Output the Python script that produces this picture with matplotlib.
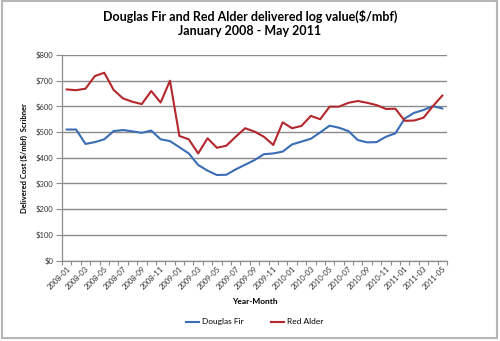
import numpy as np
import matplotlib
matplotlib.use("Agg")
import matplotlib.pyplot as plt
from matplotlib.patches import Rectangle

months = [f"{y}-{m:02d}" for y in (2008, 2009, 2010, 2011) for m in range(1, 13)][:41]

douglas_fir = [510, 510, 454, 461, 472, 504, 508, 503, 497, 506,
               472, 465, 441, 417, 372, 350, 333, 334, 355, 373,
               391, 414, 417, 424, 452, 463, 474, 499, 525, 517,
               504, 469, 460, 461, 482, 495, 553, 575, 586, 601,
               592]
red_alder = [666, 663, 669, 718, 731, 664, 631, 618, 609, 660,
             615, 700, 485, 472, 417, 476, 439, 447, 482, 515,
             502, 482, 450, 538, 515, 524, 563, 550, 599, 599,
             614, 621, 614, 605, 590, 591, 544, 545, 556, 601,
             642]

title = "Douglas Fir and Red Alder delivered log value($/mbf)\nJanuary 2008 - May 2011"
FONT = ["Lato", "DejaVu Sans"]
plt.rcParams['font.family'] = FONT

fig = plt.figure(figsize=(5.0, 3.41), dpi=100)
ax = fig.add_axes([0.124, 0.2358, 0.77, 0.6029])

x = np.arange(len(months))
ax.plot(x, douglas_fir, color="#3A6DB4", lw=1.5, label="Douglas Fir")
ax.plot(x, red_alder, color="#B3282D", lw=1.5, label="Red Alder")

ax.set_xlim(-0.5, len(months) - 0.5)
ax.set_ylim(0, 800)
ax.set_yticks(range(0, 801, 100))
ax.set_yticklabels([f"${v}" for v in range(0, 801, 100)], fontsize=5.5, color="#333333")
ax.yaxis.grid(True, color="#8c8c8c", lw=1.0)
ax.set_axisbelow(True)

ax.set_xticks(np.arange(-0.5, len(months), 1))
ax.set_xticklabels([])
ax.set_xticks(x[::2], minor=True)
ax.set_xticklabels(months[::2], minor=True, rotation=45, ha="right", va="top",
                   rotation_mode="anchor", fontsize=5.5, color="#333333")
ax.tick_params(axis="x", which="major", length=3, color="#8c8c8c", width=0.8, direction="out")
ax.tick_params(axis="x", which="minor", length=0, pad=3)
ax.tick_params(axis="y", length=4, color="#8c8c8c", width=0.8, pad=2)

for s in ("top", "right"):
    ax.spines[s].set_visible(False)
for s in ("left", "bottom"):
    ax.spines[s].set_color("#8c8c8c")
    ax.spines[s].set_linewidth(0.9)

ax.set_xlabel("Year-Month", fontsize=6, fontweight="bold", labelpad=5)
ax.set_ylabel("Delivered Cost ($/mbf)  Scribner", fontsize=5.5, fontweight="bold", labelpad=6)

fig.text(0.5, 0.972, title, ha="center", va="top", fontsize=9, fontweight="bold",
         linespacing=1.25)

ax.legend(loc="upper center", bbox_to_anchor=(0.5, -0.245), ncol=2, frameon=False,
          fontsize=6, handlelength=1.6, columnspacing=3.3, handletextpad=0.3)

fig.add_artist(Rectangle((0.004, 0.008), 0.99, 0.99, transform=fig.transFigure,
                         fill=False, edgecolor="#b5b5b5", lw=1.5))

fig.savefig("out.png", dpi=100)
